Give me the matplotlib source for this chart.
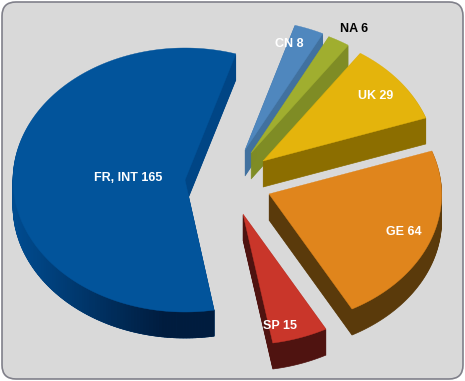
import numpy as np, matplotlib
matplotlib.use('Agg')
import matplotlib.pyplot as plt
from matplotlib.patches import FancyBboxPatch
from matplotlib.colors import to_rgb

names = ['FR, INT', 'CN', 'NA', 'UK', 'GE', 'SP']
values = [165, 8, 6, 29, 64, 15]
apex = [(185, 180), (245, 150), (251, 153), (263, 161), (269, 194), (243, 214)]
tops = ['#02549B', '#4F87BE', '#A0AE2F', '#E4B40C', '#E0851C', '#C9362A']
sides = ['#004585', '#41719F', '#7F8C25', '#8C6E00', '#5A3A0B', '#4F1310']
label_colors = ['white', 'white', 'black', 'white', 'white', 'white']
label_pos = [(128, 178), (289, 44), (354, 29), (376, 96), (404, 232), (280, 326)]

# Projection of the tilted pie discs (styling of the 3-D look)
P_SMALL = [162.8674, -52.1926, 39.8868, 124.1246, -0.0079, 0.0059]
P_BIG = [172, 0, 0, 132, 0, 0]
BIG_START = 72.8
SMALL_START = 55.25
DEPTH = 26


def proj(t, p):
    X, Y = np.cos(np.radians(t)), np.sin(np.radians(t))
    w = 1 + p[4] * X + p[5] * Y
    return (p[0] * X + p[1] * Y) / w, (p[2] * X + p[3] * Y) / w


sweep = np.array(values) / sum(values) * 360
fig = plt.figure(figsize=(4.65, 3.81), dpi=100)
ax = fig.add_axes([0, 0, 1, 1])
ax.set_xlim(0, 465)
ax.set_ylim(381, 0)
ax.axis('off')
ax.add_patch(FancyBboxPatch((16, 16), 433, 349, boxstyle='round,pad=14,rounding_size=14',
                            fc='#D9D9D9', ec='#80808A', lw=1.2))
a = SMALL_START
for i, v in enumerate(values):
    if i == 0:
        tt = np.linspace(BIG_START + sweep[0], BIG_START, 200)
        x, y = proj(tt, P_BIG)
    else:
        tt = np.linspace(a, a - sweep[i], 120)
        a -= sweep[i]
        x, y = proj(tt, P_SMALL)
    X = np.r_[apex[i][0], apex[i][0] + x]
    Y = np.r_[apex[i][1], apex[i][1] - y]
    for d in range(DEPTH, 0, -1):
        ax.fill(X, Y + d, color=sides[i], lw=0.5, zorder=2 + i)
    if i == 0:
        # shaded outer rim of the large slice, darker towards the front
        c0, c1 = np.array(to_rgb('#004C90')), np.array(to_rgb('#001C3E'))
        xa, ya = X[1:], Y[1:]
        for j in range(len(xa) - 1):
            if xa[j + 1] < xa[j]:
                m = np.clip((xa[j] - 15) / 150, 0, 1)
                col = c0 + (c1 - c0) * m
                ax.fill([xa[j], xa[j + 1], xa[j + 1], xa[j]],
                        [ya[j], ya[j + 1], ya[j + 1] + DEPTH, ya[j] + DEPTH],
                        color=col, lw=0.5, zorder=2.5)
    ax.fill(X, Y, color=tops[i], lw=0.3, zorder=2.7 + i)
    ax.text(*label_pos[i], f'{names[i]} {v}', color=label_colors[i], family='Liberation Sans',
            fontweight='bold', fontsize=9, ha='center', va='center', zorder=20)
fig.savefig('out.png')
